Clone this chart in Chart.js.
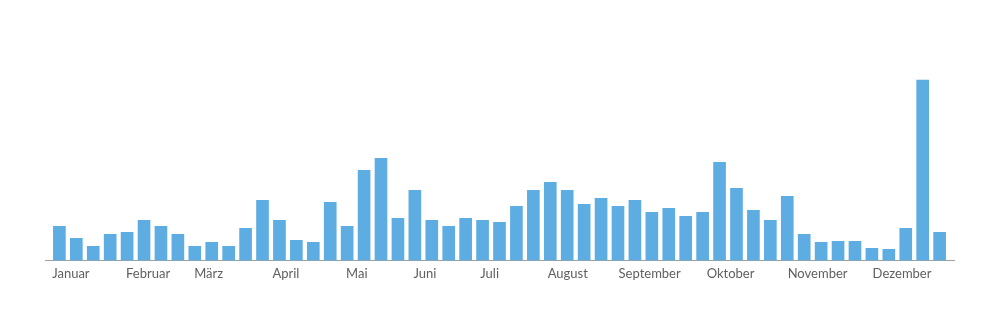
<!DOCTYPE html>
<html>
<head>
<meta charset="utf-8">
<script src="https://cdn.jsdelivr.net/npm/chart.js@4.4.1/dist/chart.umd.min.js"></script>
<style>
    html, body { margin: 0; padding: 0; background: #fff; }
    #wrap { width: 1000px; height: 319px; position: relative; }
</style>
</head>
<body>
<div id="wrap"><canvas id="chartWochen"></canvas></div>
<script>
// Werte pro Kalenderwoche (53 Wochen)
const wochenWerte = [
    17, 11, 7, 13, 14, 20, 17, 13, 7, 9,
    7, 16, 30, 20, 10, 9, 29, 17, 45, 51,
    21, 35, 20, 17, 21, 20, 19, 27, 35, 39,
    35, 28, 31, 27, 30, 24, 26, 22, 24, 49,
    36, 25, 20, 32, 13, 9, 9.5, 9.5, 6, 5.5,
    16, 90, 14
];

const monate = ['Januar', 'Februar', 'März', 'April', 'Mai', 'Juni',
    'Juli', 'August', 'September', 'Oktober', 'November', 'Dezember'];
// Position der Monatsbeschriftung (in Wochen)
const monatsPos = [0.68, 5.24, 8.82, 13.38, 17.57, 21.6, 25.42, 30.03, 34.87, 39.65, 44.79, 49.78];

const punkte = wochenWerte.map((v, i) => ({ x: i, y: v }));

new Chart(document.getElementById('chartWochen').getContext('2d'), {
    type: 'bar',
    data: {
        datasets: [{
            data: punkte,
            backgroundColor: '#5dade2',
            barThickness: 12
        }]
    },
    options: {
        responsive: true,
        maintainAspectRatio: false,
        animation: false,
        layout: { padding: { left: 45, right: 46, top: 0, bottom: 31 } },
        plugins: { legend: { display: false }, tooltip: { enabled: false } },
        scales: {
            x: {
                type: 'linear',
                offset: false,
                min: -0.85,
                max: 52.85,
                grid: { display: false, drawTicks: false },
                border: { display: true, color: '#a0a0a0', width: 1 },
                afterBuildTicks: (axis) => {
                    axis.ticks = monatsPos.map(v => ({ value: v }));
                },
                ticks: {
                    autoSkip: false,
                    maxRotation: 0,
                    padding: 6,
                    color: '#606060',
                    font: { family: 'Lato', size: 13 },
                    callback: (val, idx) => monate[idx]
                }
            },
            y: {
                display: false,
                min: 0,
                max: 130
            }
        }
    }
});
</script>
</body>
</html>
